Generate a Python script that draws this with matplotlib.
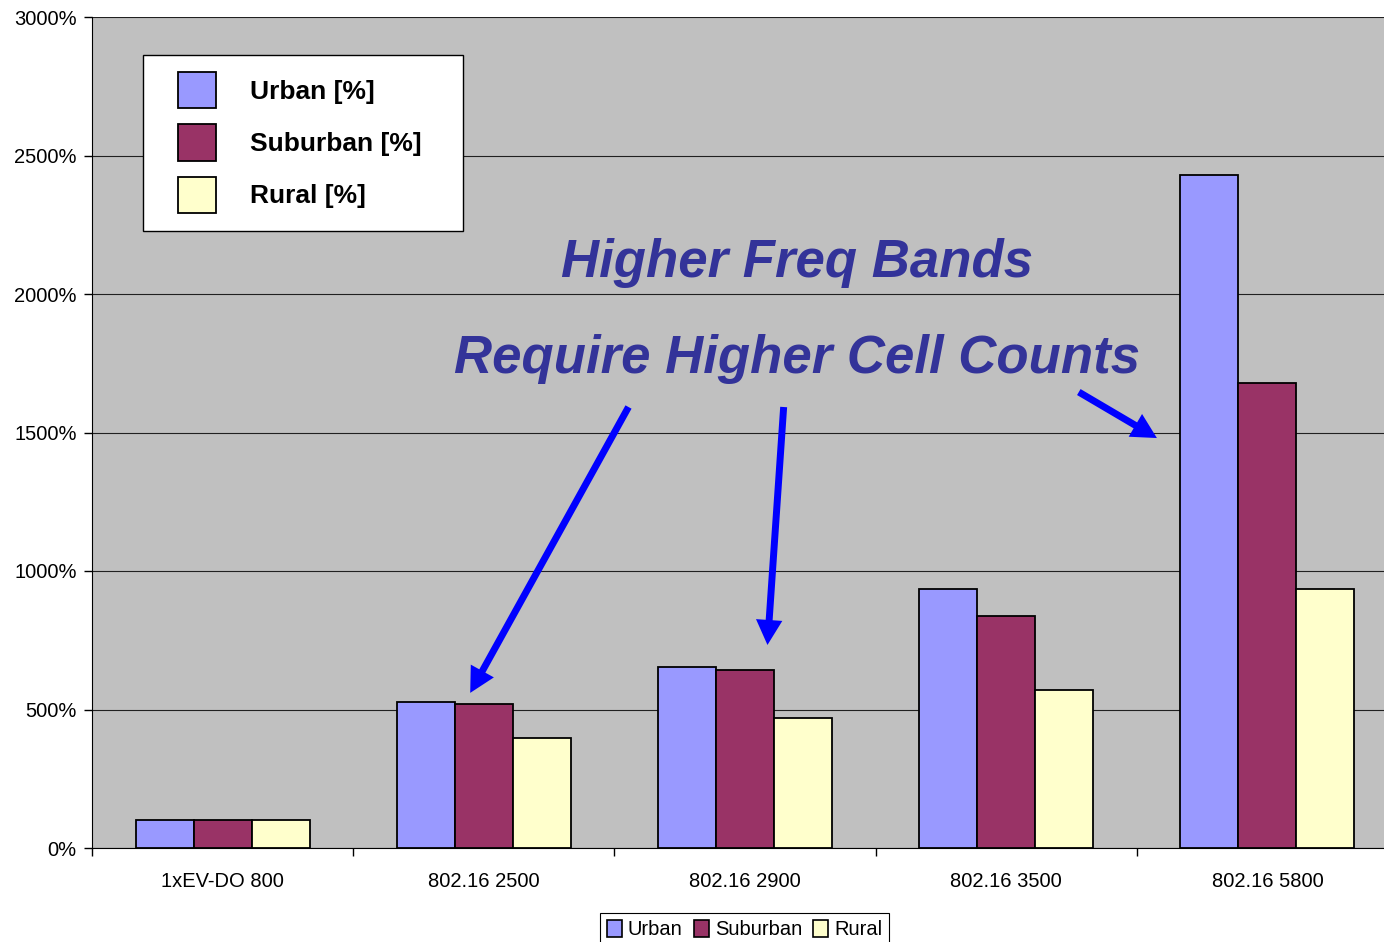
import matplotlib
matplotlib.use("Agg")
import matplotlib.pyplot as plt
from matplotlib.patches import Rectangle, Patch
from matplotlib.ticker import FixedLocator, NullFormatter
import numpy as np

plt.rcParams['font.family'] = ['Liberation Sans', 'DejaVu Sans']

# cell count relative to 1xEV-DO 800, in percent
categories = ['1xEV-DO 800', '802.16 2500', '802.16 2900', '802.16 3500', '802.16 5800']
urban = [100, 527, 653, 935, 2430]
suburban = [100, 520, 643, 838, 1679]
rural = [100, 397, 469, 570, 935]

series_names = ['Urban', 'Suburban', 'Rural']
series_colors = ['#9999FF', '#993366', '#FFFFCC']
yticks = [0, 500, 1000, 1500, 2000, 2500, 3000]

W, H = 1384, 942
fig = plt.figure(figsize=(W / 100, H / 100), dpi=100)
# plot area runs a little past the right edge of the canvas
ax = fig.add_axes([92 / W, 1 - 848 / H, 1306 / W, 831 / H])
ax.set_facecolor('#C0C0C0')

x = np.arange(len(categories))
bw = 0.222
for i, (vals, col) in enumerate(zip([urban, suburban, rural], series_colors)):
    ax.bar(x + (i - 1) * bw, vals, width=bw, color=col, edgecolor='black',
           linewidth=1.3, zorder=3)

ax.set_xlim(-0.5, len(categories) - 0.5)
ax.set_ylim(0, 3000)
ax.set_yticks(yticks)
ax.set_yticklabels([f'{v}%' for v in yticks])
ax.yaxis.grid(True, color='#202020', linewidth=0.8)
ax.set_axisbelow(True)

# boundary ticks between groups, labels centred under each group
ax.xaxis.set_major_locator(FixedLocator(np.arange(-0.5, len(categories), 1.0)))
ax.xaxis.set_major_formatter(NullFormatter())
ax.xaxis.set_minor_locator(FixedLocator(x))
ax.set_xticklabels(categories, minor=True)
ax.tick_params(axis='x', which='minor', length=0, pad=17, labelsize=14.5)
ax.tick_params(axis='x', which='major', length=6, width=1, color='black')
ax.tick_params(axis='y', length=6, width=1, pad=5, labelsize=14.5)

for s in ['top', 'right']:
    ax.spines[s].set_visible(False)
ax.spines['left'].set_color('black')
ax.spines['bottom'].set_color('black')

# boxed legend inside the plot
ax.add_patch(Rectangle((143 / W, 1 - 231 / H), 320 / W, 176 / H, transform=fig.transFigure,
                       facecolor='white', edgecolor='black', linewidth=1.0, zorder=5))
big_handles = [Patch(facecolor=c, edgecolor='black', linewidth=1.3) for c in series_colors]
leg1 = ax.legend(big_handles, [f'{n} [%]' for n in series_names], loc='upper left',
                 bbox_to_anchor=(178 / W, 1 - 72 / H), bbox_transform=fig.transFigure,
                 frameon=False, borderpad=0, borderaxespad=0, handlelength=1.44,
                 handleheight=1.75, labelspacing=0.6, handletextpad=1.3,
                 prop={'size': 19, 'weight': 'bold'})
leg1.set_zorder(6)

# callout text and arrows
ax.text(2.2, 2113, 'Higher Freq Bands', ha='center', va='center', fontsize=38,
        fontweight='bold', fontstyle='italic', color='#333399', zorder=6)
ax.text(2.2, 1767, 'Require Higher Cell Counts', ha='center', va='center', fontsize=38,
        fontweight='bold', fontstyle='italic', color='#333399', zorder=6)
arrow_kw = dict(facecolor='#0000FF', edgecolor='none', width=5, headwidth=19,
                headlength=18, shrink=0)
for start, end in [((1.554, 1592), (0.948, 560)),
                   ((2.148, 1592), (2.086, 733)),
                   ((3.278, 1646), (3.577, 1480))]:
    ax.annotate('', xy=end, xytext=start, arrowprops=arrow_kw, zorder=6)

# small legend under the axis
small_handles = [Patch(facecolor=c, edgecolor='black', linewidth=1.2) for c in series_colors]
leg2 = fig.legend(small_handles, series_names, loc='upper center', ncol=3,
                  bbox_to_anchor=(744.5 / W, 1 - 913 / H), bbox_transform=fig.transFigure,
                  fancybox=False, edgecolor='black', framealpha=1, borderpad=0.35,
                  borderaxespad=0, handlelength=0.75, handleheight=0.9, handletextpad=0.3,
                  columnspacing=0.55, prop={'size': 14.5})
leg2.get_frame().set_linewidth(0.8)

fig.savefig('out.png', dpi=100)
